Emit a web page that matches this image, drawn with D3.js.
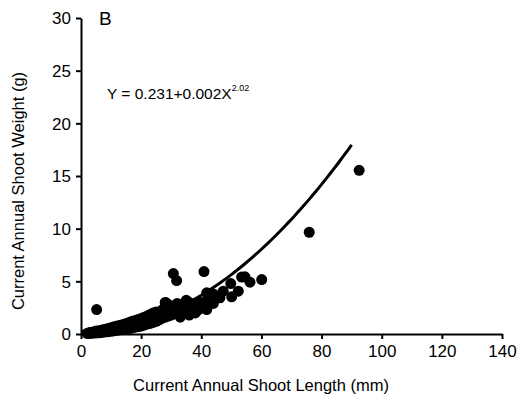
<!DOCTYPE html>
<html>
<head>
<meta charset="utf-8">
<script src="https://cdn.jsdelivr.net/npm/d3@7"></script>
<style>
  body { margin: 0; background: #fff; }
  svg text { font-family: "Liberation Sans", Arial, sans-serif; fill: #000; }
</style>
</head>
<body>
<svg id="chart"></svg>
<script>
// данные
const xTicks = [0, 20, 40, 60, 80, 100, 120, 140];
const yTicks = [0, 5, 10, 15, 20, 25, 30];

// длина побега (мм)
const shootLength = [
  2, 2.5, 3, 3, 3.5, 4, 4, 4.5, 5, 5, 5.5, 6, 6, 6.5, 7, 7, 7.5, 8, 8, 8.5,
  9, 9, 9.5, 10, 10, 10.5, 11, 11, 11.5, 12, 12, 12.5, 13, 13, 13.5, 14, 14, 14.5,
  15, 15, 15.5, 16, 16, 16.5, 17, 17, 17.5, 18, 18, 18.5, 19, 19, 19.5, 20, 20, 20.5,
  21, 21, 21.5, 22, 22, 22.5, 23, 23, 23.5, 24, 24, 24.5, 25, 25, 25.5, 26, 26, 26.5,
  27, 27, 28, 28, 28.5, 29, 29, 30, 30, 30.5, 31, 31.5, 32, 32, 33, 33.5, 34, 34,
  35, 35, 35.7, 36, 36.5, 37, 38, 38.5, 39, 40, 40, 41.8, 41.8, 42, 43, 44, 45, 46.2,
  47.3, 49.8, 50.1, 52.3, 5.2, 28.3, 30.7, 31.8, 40.9, 53.4, 54.5, 56.2, 60.1, 75.9, 92.5,
  33, 36, 38, 42, 44
];
// масса побега (г)
const shootWeight = [
  0.05, 0.1, 0.15, 0.05, 0.12, 0.2, 0.08, 0.15, 0.28, 0.1, 0.2, 0.32, 0.12, 0.25, 0.38, 0.15, 0.3, 0.45, 0.2, 0.35,
  0.52, 0.22, 0.38, 0.6, 0.25, 0.45, 0.7, 0.3, 0.5, 0.75, 0.35, 0.55, 0.82, 0.4, 0.6, 0.9, 0.42, 0.65,
  1.0, 0.48, 0.75, 1.1, 0.52, 0.8, 1.2, 0.58, 0.9, 1.28, 0.65, 1.0, 1.38, 0.7, 1.05, 1.48, 0.75, 1.1,
  1.6, 0.85, 1.2, 1.7, 0.95, 1.3, 1.85, 1.0, 1.4, 2.0, 1.1, 1.55, 2.1, 1.2, 1.6, 1.9, 1.35, 1.7,
  2.3, 1.5, 3.0, 1.6, 2.2, 2.8, 1.7, 2.6, 1.8, 2.2, 2.4, 2.0, 2.2, 2.9, 2.0, 2.6, 2.5, 2.1,
  3.2, 2.2, 2.6, 3.0, 2.4, 2.8, 2.6, 2.9, 2.3, 3.0, 2.5, 3.91, 2.32, 3.2, 3.5, 3.8, 3.6, 3.43,
  4.06, 4.79, 3.53, 4.06, 2.32, 2.96, 5.74, 5.07, 5.93, 5.4, 5.43, 4.92, 5.17, 9.66, 15.54,
  1.6, 1.8, 2.0, 2.6, 2.9
];
// Y = a + b * X^c
const fitCoef = [0.231, 0.002, 2.02];
const fitRange = [0, 90];

const width = 525, height = 404;
const margin = {left: 81, right: 23, top: 18, bottom: 70};

const svg = d3.select("#chart").attr("width", width).attr("height", height);

const x = d3.scaleLinear().domain([0, 140]).range([margin.left, width - margin.right]);
const y = d3.scaleLinear().domain([0, 30]).range([height - margin.bottom, margin.top]);

// оси
svg.append("g")
  .attr("transform", `translate(0, ${y(0)})`)
  .call(d3.axisBottom(x).tickValues(xTicks).tickSize(5).tickPadding(6).tickSizeOuter(0))
  .call(g => g.selectAll("text").style("font-size", "17px"))
  .call(g => g.selectAll("line, path").attr("stroke", "#000").attr("stroke-width", 2));

svg.append("g")
  .attr("transform", `translate(${x(0)}, 0)`)
  .call(d3.axisLeft(y).tickValues(yTicks).tickSize(5).tickPadding(5).tickSizeOuter(0))
  .call(g => g.selectAll("text").style("font-size", "17px").attr("dy", "0.35em"))
  .call(g => g.selectAll("line, path").attr("stroke", "#000").attr("stroke-width", 2));

// точки
const pts = shootLength.map((d, i) => ({x: d, y: shootWeight[i]}));
svg.append("g")
  .selectAll("circle")
  .data(pts)
  .enter()
  .append("circle")
  .attr("cx", d => x(d.x))
  .attr("cy", d => y(d.y))
  .attr("r", 5.5)
  .attr("fill", "#000");

// кривая регрессии
const fitX = d3.range(fitRange[0], fitRange[1] + 0.5, 1);
const line = d3.line()
  .x(d => x(d))
  .y(d => y(fitCoef[0] + fitCoef[1] * Math.pow(d, fitCoef[2])));
svg.append("path")
  .datum(fitX)
  .attr("d", line)
  .attr("fill", "none")
  .attr("stroke", "#000")
  .attr("stroke-width", 3);

// подписи
svg.append("text").attr("x", 99).attr("y", 25).style("font-size", "19px").text("B");

const eq = svg.append("text").attr("x", 107).attr("y", 99).style("font-size", "15.5px");
eq.append("tspan").text("Y = 0.231+0.002X");
eq.append("tspan").attr("dy", -8).style("font-size", "9px").text("2.02");

svg.append("text")
  .attr("x", 261).attr("y", 391)
  .attr("text-anchor", "middle")
  .style("font-size", "16.5px")
  .text("Current Annual Shoot Length (mm)");

svg.append("text")
  .attr("transform", "translate(24, 191) rotate(-90)")
  .attr("text-anchor", "middle")
  .style("font-size", "16.5px")
  .text("Current Annual Shoot Weight (g)");
</script>
</body>
</html>
